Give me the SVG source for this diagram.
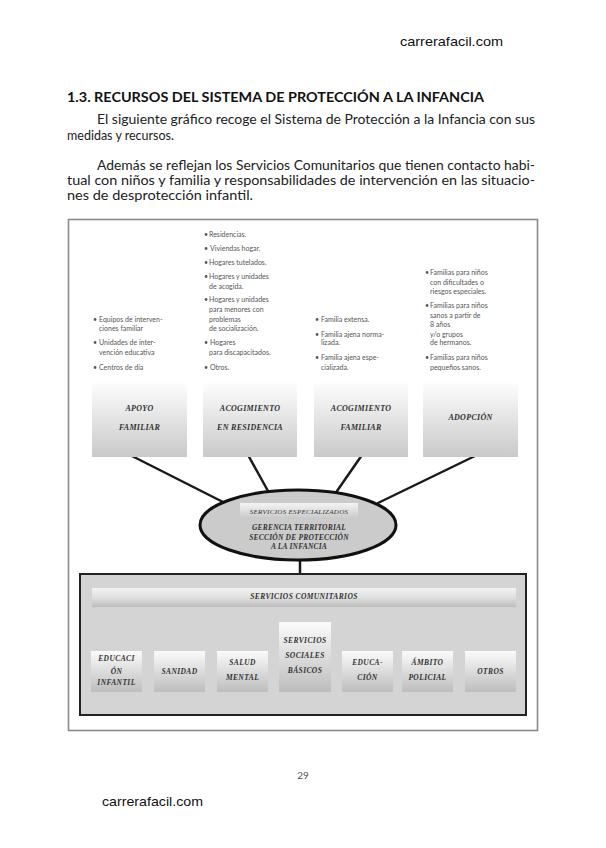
<svg xmlns="http://www.w3.org/2000/svg" width="606" height="848" viewBox="0 0 606 848">
<defs>
<linearGradient id="gTop" x1="0" y1="0" x2="0" y2="1">
<stop offset="0" stop-color="#fdfdfd"/><stop offset="1" stop-color="#c9c9c9"/>
</linearGradient>
<linearGradient id="gSmall" x1="0" y1="0" x2="0" y2="1">
<stop offset="0" stop-color="#fbfbfb"/><stop offset="1" stop-color="#bdbdbd"/>
</linearGradient>
<linearGradient id="gBar" x1="0" y1="0" x2="0" y2="1">
<stop offset="0" stop-color="#f2f2f2"/><stop offset="0.5" stop-color="#e0e0e0"/><stop offset="1" stop-color="#bcbcbc"/>
</linearGradient>
<linearGradient id="gEsp" x1="0" y1="0" x2="0" y2="1">
<stop offset="0" stop-color="#f4f4f4"/><stop offset="1" stop-color="#c8c8c8"/>
</linearGradient>
</defs>
<style>
.hdr{font-family:"Liberation Sans",Arial,sans-serif;font-size:13px;fill:#111}
.ttl{font-family:"Lato","Open Sans",sans-serif;font-size:12.5px;font-weight:bold;fill:#111}
.par{font-family:"Lato","Open Sans",sans-serif;font-size:12.5px;fill:#222}
.li{font-family:"Lato","Open Sans",sans-serif;font-size:7px;fill:#555}
.lab{font-family:"Liberation Serif","Times New Roman",serif;font-size:8px;font-weight:bold;font-style:italic;fill:#333;text-anchor:middle;letter-spacing:0.3px}
.slab{font-size:7.5px;letter-spacing:0.4px}
.box{stroke:none;fill:url(#gTop)}
.sbox{stroke:none;fill:url(#gSmall)}
.con{stroke:#1a1a1a;stroke-width:2.5;fill:none;stroke-linecap:round}
</style>
<rect width="606" height="848" fill="#ffffff"/>
<text class="hdr" x="400" y="46" textLength="103" lengthAdjust="spacingAndGlyphs">carrerafacil.com</text>
<text class="ttl" x="67" y="102" textLength="417" lengthAdjust="spacingAndGlyphs">1.3.  RECURSOS DEL SISTEMA DE PROTECCIÓN A LA INFANCIA</text>
<text class="par" x="97" y="124" textLength="438" lengthAdjust="spacingAndGlyphs">El siguiente gráfico recoge el Sistema de Protección a la Infancia con sus</text>
<text class="par" x="67" y="140">medidas y recursos.</text>
<text class="par" x="97" y="170" textLength="438" lengthAdjust="spacingAndGlyphs">Además se reflejan los Servicios Comunitarios que tienen contacto habi-</text>
<text class="par" x="67" y="185" textLength="468" lengthAdjust="spacingAndGlyphs">tual con niños y familia y responsabilidades de intervención en las situacio-</text>
<text class="par" x="67" y="200" textLength="186" lengthAdjust="spacingAndGlyphs">nes de desprotección infantil.</text>
<rect x="68.5" y="219.5" width="469" height="511" fill="none" stroke="#8a8a8a" stroke-width="1.6"/>
<g id="connectors">
<line class="con" x1="130" y1="455" x2="223" y2="502"/>
<line class="con" x1="248" y1="455" x2="268" y2="491"/>
<line class="con" x1="362" y1="455" x2="337" y2="491"/>
<line class="con" x1="477" y1="455" x2="378" y2="503"/>
<line class="con" x1="300" y1="560" x2="300" y2="574"/>
</g>
<g id="list-apoyo">
<text class="li"><tspan x="93" y="322">•</tspan><tspan x="99" y="322">Equipos de interven-</tspan><tspan x="99" y="331">ciones familiar</tspan><tspan x="93" y="345">•</tspan><tspan x="99" y="345">Unidades de inter-</tspan><tspan x="99" y="355">vención educativa</tspan><tspan x="93" y="370">•</tspan><tspan x="99" y="370">Centros de día</tspan></text>
</g>
<g id="list-residencia">
<text class="li"><tspan x="204" y="237">•</tspan><tspan x="209" y="237">Residencias.</tspan><tspan x="204" y="251">•</tspan><tspan x="210" y="251">Viviendas hogar.</tspan><tspan x="204" y="265">•</tspan><tspan x="209" y="265">Hogares tutelados.</tspan><tspan x="204" y="279">•</tspan><tspan x="209" y="279">Hogares y unidades</tspan><tspan x="209" y="289">de acogida.</tspan><tspan x="204" y="302">•</tspan><tspan x="209" y="302">Hogares y unidades</tspan><tspan x="209" y="312">para menores con</tspan><tspan x="209" y="322">problemas</tspan><tspan x="209" y="331">de socialización.</tspan><tspan x="204" y="345">•</tspan><tspan x="210" y="345">Hogares</tspan><tspan x="209" y="355">para discapacitados.</tspan><tspan x="204" y="370">•</tspan><tspan x="210" y="370">Otros.</tspan></text>
</g>
<g id="list-familiar">
<text class="li"><tspan x="315" y="322">•</tspan><tspan x="321" y="322">Familia extensa.</tspan><tspan x="315" y="337">•</tspan><tspan x="321" y="337">Familia ajena norma-</tspan><tspan x="321" y="345">lizada.</tspan><tspan x="315" y="360">•</tspan><tspan x="321" y="360">Familia ajena espe-</tspan><tspan x="321" y="370">cializada.</tspan></text>
</g>
<g id="list-adopcion">
<text class="li"><tspan x="425" y="275">•</tspan><tspan x="430" y="275">Familias para niños</tspan><tspan x="430" y="285">con dificultades o</tspan><tspan x="430" y="294">riesgos especiales.</tspan><tspan x="425" y="308">•</tspan><tspan x="430" y="308">Familias para niños</tspan><tspan x="430" y="318">sanos a partir de</tspan><tspan x="430" y="327">8 años</tspan><tspan x="430" y="337">y/o grupos</tspan><tspan x="430" y="345">de hermanos.</tspan><tspan x="425" y="360">•</tspan><tspan x="430" y="360">Familias para niños</tspan><tspan x="430" y="370">pequeños sanos.</tspan></text>
</g>
<g id="node-apoyo">
<rect class="box" x="92" y="383" width="95" height="74"/>
<text class="lab"><tspan x="139.5" y="411">APOYO</tspan><tspan x="139.5" y="430">FAMILIAR</tspan></text>
</g>
<g id="node-residencia">
<rect class="box" x="203" y="383" width="94" height="74"/>
<text class="lab"><tspan x="250" y="411">ACOGIMIENTO</tspan><tspan x="250" y="430">EN RESIDENCIA</tspan></text>
</g>
<g id="node-familiar">
<rect class="box" x="314" y="383" width="94" height="74"/>
<text class="lab"><tspan x="361" y="411">ACOGIMIENTO</tspan><tspan x="361" y="430">FAMILIAR</tspan></text>
</g>
<g id="node-adopcion">
<rect class="box" x="423" y="383" width="95" height="74"/>
<text class="lab"><tspan x="470.5" y="420">ADOPCIÓN</tspan></text>
</g>
<g id="node-especializados">
<ellipse cx="298" cy="525" rx="98" ry="35" fill="#cbcbcb" stroke="#111" stroke-width="3"/>
<rect x="240" y="503" width="118" height="16" fill="url(#gEsp)"/>
<text class="lab" style="font-size:7px;font-weight:normal;letter-spacing:0.3px"><tspan x="299" y="514">SERVICIOS ESPECIALIZADOS</tspan></text>
<text class="lab" style="font-size:7.5px;letter-spacing:0.2px"><tspan x="299" y="530">GERENCIA TERRITORIAL</tspan><tspan x="299" y="540">SECCIÓN DE PROTECCIÓN</tspan><tspan x="299" y="549">A LA INFANCIA</tspan></text>
</g>
<g id="node-comunitarios">
<rect x="80" y="574" width="446" height="141" fill="#d4d4d4" stroke="#222" stroke-width="2"/>
<rect x="92" y="588" width="424" height="19" fill="url(#gBar)"/>
<text class="lab slab"><tspan x="304" y="599">SERVICIOS COMUNITARIOS</tspan></text>
</g>
<g id="node-educacion-infantil">
<rect class="sbox" x="91" y="651" width="51" height="41"/>
<text class="lab slab"><tspan x="116.5" y="661">EDUCACI</tspan><tspan x="116.5" y="674">ÓN</tspan><tspan x="116.5" y="685">INFANTIL</tspan></text>
</g>
<g id="node-sanidad">
<rect class="sbox" x="154" y="651" width="51" height="41"/>
<text class="lab slab"><tspan x="179.5" y="674">SANIDAD</tspan></text>
</g>
<g id="node-salud">
<rect class="sbox" x="217" y="651" width="51" height="41"/>
<text class="lab slab"><tspan x="242.5" y="665">SALUD</tspan><tspan x="242.5" y="680">MENTAL</tspan></text>
</g>
<g id="node-ssb">
<rect class="sbox" x="279" y="622" width="52" height="70"/>
<text class="lab slab"><tspan x="305" y="643">SERVICIOS</tspan><tspan x="305" y="658">SOCIALES</tspan><tspan x="305" y="673">BÁSICOS</tspan></text>
</g>
<g id="node-educacion">
<rect class="sbox" x="342" y="651" width="51" height="41"/>
<text class="lab slab"><tspan x="367.5" y="665">EDUCA-</tspan><tspan x="367.5" y="680">CIÓN</tspan></text>
</g>
<g id="node-policial">
<rect class="sbox" x="402" y="651" width="51" height="41"/>
<text class="lab slab"><tspan x="427.5" y="665">ÁMBITO</tspan><tspan x="427.5" y="680">POLICIAL</tspan></text>
</g>
<g id="node-otros">
<rect class="sbox" x="465" y="651" width="51" height="41"/>
<text class="lab slab"><tspan x="490.5" y="674">OTROS</tspan></text>
</g>
<text x="303" y="779" text-anchor="middle" style="font-family:'Lato','Open Sans',sans-serif;font-size:10px;fill:#555">29</text>
<text class="hdr" x="102" y="806" textLength="101" lengthAdjust="spacingAndGlyphs">carrerafacil.com</text>
</svg>
